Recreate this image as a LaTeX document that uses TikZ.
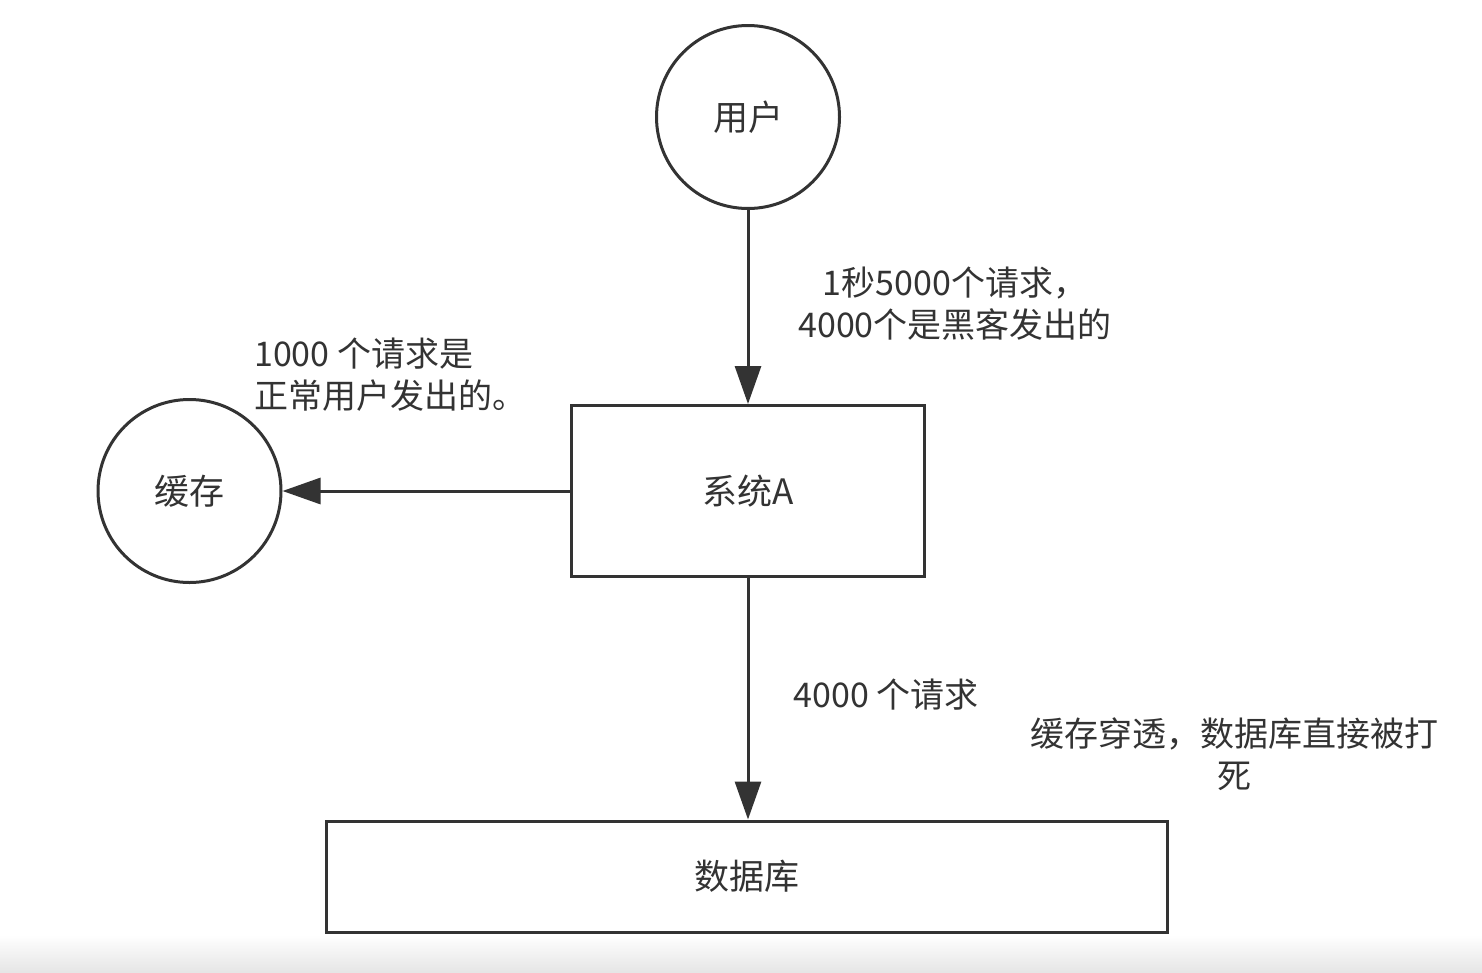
\documentclass[tikz,border=0pt]{standalone}
\usepackage{fontspec}
\setmainfont{Noto Sans CJK SC}
\usetikzlibrary{arrows.meta}
\definecolor{ink}{HTML}{333333}
\begin{document}
\begin{tikzpicture}[x=1pt,y=-1pt,
  every node/.style={text=ink,font=\fontsize{34}{42}\selectfont},
  circnode/.style={circle,draw=ink,line width=3pt,minimum size=183pt,inner sep=0pt,font=\fontsize{35}{42}\selectfont},
  boxnode/.style={rectangle,draw=ink,line width=3pt,inner sep=0pt,font=\fontsize{35}{42}\selectfont},
  arr/.style={draw=ink,line width=3pt,-{Triangle[length=38pt,width=26pt]}},
  lbl/.style={align=center,inner sep=0pt}]
\useasboundingbox (0,0) rectangle (1482,972);
\fill[white] (0,0) rectangle (1482,972);
\shade[top color=white,bottom color=black!10,draw=none] (0,935) rectangle (1482,972);
\node[circnode] (user) at (748,117) {用户};
\node[circnode] (cache) at (189.5,491) {缓存};
\node[boxnode,minimum width=353pt,minimum height=171pt] (sys) at (748,491) {系统A};
\node[boxnode,minimum width=841pt,minimum height=111pt] (db) at (746.5,876.5) {数据库};
\draw[arr] (user) -- (sys);
\draw[arr] (sys.west) -- (cache.east);
\draw[arr] (sys.south) -- (db.north -| sys.south);
\node[lbl] (l1) at (955,304) {1秒5000个请求，\\4000个是黑客发出的};
\node[lbl,align=left,anchor=west] (l2) at (254,375) {1000 个请求是\\正常用户发出的。};
\node[lbl] (l3) at (886,695) {4000 个请求};
\node[lbl] (l4) at (1234,754) {缓存穿透，数据库直接被打\\死};
\end{tikzpicture}
\end{document}
